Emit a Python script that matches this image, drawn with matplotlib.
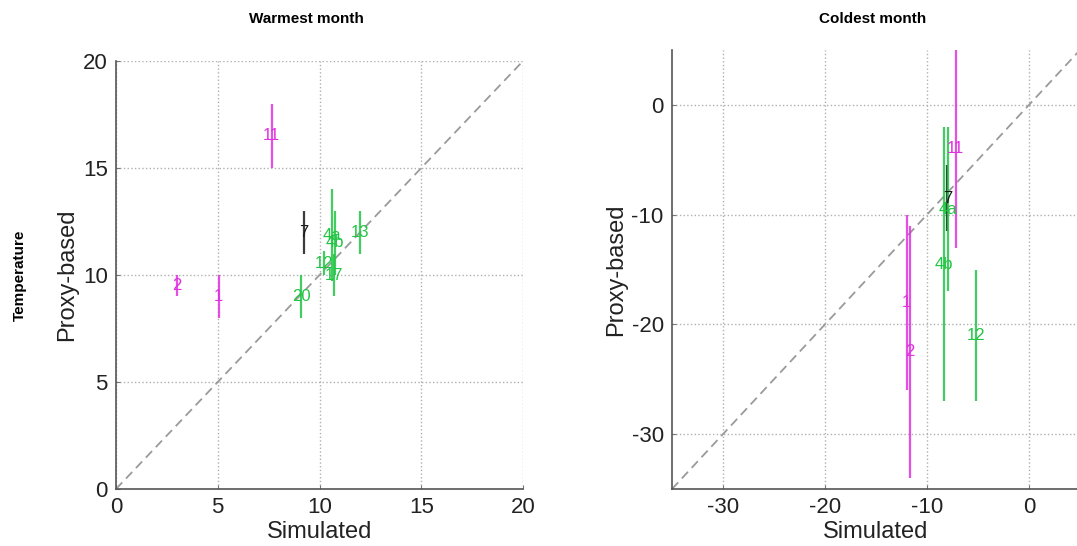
import matplotlib
matplotlib.use("Agg")
import matplotlib.pyplot as plt

plt.rcParams['font.family'] = ['Liberation Sans', 'DejaVu Sans']
plt.rcParams['axes.unicode_minus'] = False

MAGENTA = '#e030e0'
GREEN = '#22c444'
BLACK = '#1a1a1a'

# Warmest month: site labels, simulated value, proxy range (low, high)
warm_sites = ['11', '7', '1', '2', '20', '17', '12', '4a', '4b', '13']
warm_sim = [7.65, 9.25, 5.05, 3.0, 9.1, 10.7, 10.2, 10.6, 10.75, 12.0]
warm_lo = [15.0, 11.0, 8.0, 9.0, 8.0, 9.0, 10.0, 9.7, 10.0, 11.0]
warm_hi = [18.0, 13.0, 10.0, 10.0, 10.0, 11.0, 11.1, 14.0, 13.0, 13.0]
warm_colors = [MAGENTA, BLACK, MAGENTA, MAGENTA, GREEN, GREEN, GREEN, GREEN, GREEN, GREEN]

# Coldest month
cold_sites = ['11', '7', '4a', '4b', '12', '1', '2']
cold_sim = [-7.2, -8.0, -7.9, -8.3, -5.2, -12.0, -11.7]
cold_lo = [-13.0, -11.5, -17.0, -27.0, -27.0, -26.0, -34.0]
cold_hi = [5.0, -5.5, -2.0, -2.0, -15.0, -10.0, -11.0]
cold_colors = [MAGENTA, BLACK, GREEN, GREEN, GREEN, MAGENTA, MAGENTA]

warm_ticks = [0, 5, 10, 15, 20]
cold_ticks = [-30, -20, -10, 0]

fig = plt.figure(figsize=(10.77, 5.46), dpi=100)
ax1 = fig.add_axes([116 / 1077, 57 / 546, 407 / 1077, 428 / 546])
ax2 = fig.add_axes([672 / 1077, 57 / 546, 408 / 1077, 439 / 546])


def style(ax, lim, ticks):
    ax.set_xlim(*lim)
    ax.set_ylim(*lim)
    ax.set_xticks(ticks)
    ax.set_yticks(ticks)
    ax.grid(True, linestyle=':', color='#b0b0b0', linewidth=1.0)
    ax.set_axisbelow(True)
    for s in ('top', 'right'):
        ax.spines[s].set_visible(False)
    for s in ('left', 'bottom'):
        ax.spines[s].set_color('#555555')
        ax.spines[s].set_linewidth(1.2)
    ax.tick_params(direction='in', length=3, color='#777777', labelsize=16,
                   labelcolor='#222222', pad=6)
    ax.plot(lim, lim, linestyle=(0, (5, 3)), color='#9a9a9a', linewidth=1.3)
    ax.set_xlabel('Simulated', fontsize=17, color='#222222', labelpad=2)
    ax.set_ylabel('Proxy-based', fontsize=17, color='#222222', labelpad=3)


def draw_sites(ax, sites, sim, lo, hi, colors):
    for name, x, a, b, c in zip(sites, sim, lo, hi, colors):
        ax.vlines(x, a, b, color=c, linewidth=1.6, alpha=0.85)
        ax.text(x, (a + b) / 2, name, color=c, fontsize=12,
                ha='center', va='center', clip_on=True)


style(ax1, (0, 20), warm_ticks)
style(ax2, (-35, 5), cold_ticks)
draw_sites(ax1, warm_sites, warm_sim, warm_lo, warm_hi, warm_colors)
draw_sites(ax2, cold_sites, cold_sim, cold_lo, cold_hi, cold_colors)

fig.text(306 / 1077, 1 - 19 / 546, 'Warmest month', fontsize=11,
         fontweight='bold', ha='center', va='center')
fig.text(873 / 1077, 1 - 19 / 546, 'Coldest month', fontsize=11,
         fontweight='bold', ha='center', va='center')
fig.text(20 / 1077, 1 - 275 / 546, 'Temperature', fontsize=11,
         fontweight='bold', ha='center', va='center', rotation=90)

fig.savefig('out.png', dpi=100)
